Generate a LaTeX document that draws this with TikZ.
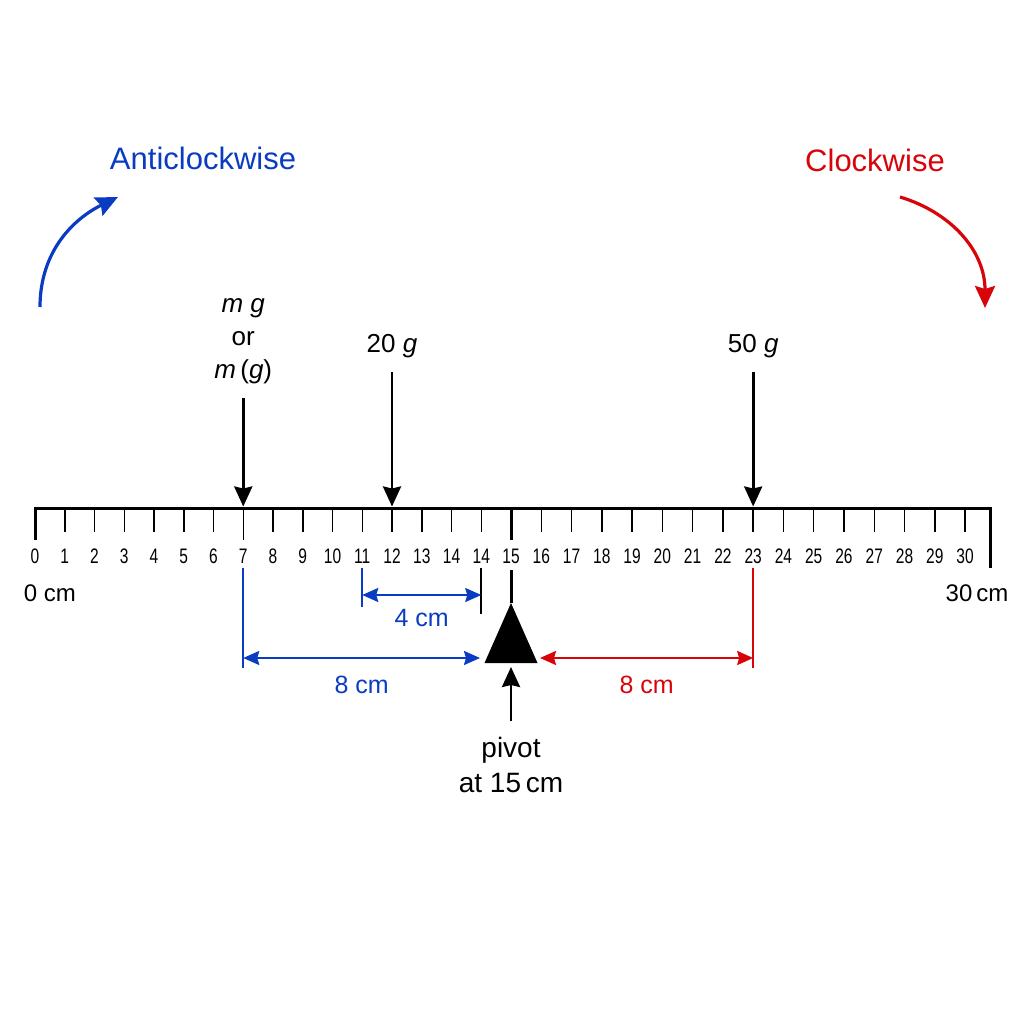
\documentclass[tikz,border=0pt]{standalone}
\usepackage{fontspec}
\setmainfont{Liberation Sans}
\newfontfamily\narrowfont[FakeStretch=0.74]{Liberation Sans}
\usetikzlibrary{arrows.meta,calc,positioning}

\definecolor{acw}{RGB}{10,60,195}
\definecolor{cw}{RGB}{215,5,10}

\tikzset{
  ruler/.style={line width=3pt},
  tick/.style={line width=1.5pt},
  ticklab/.style={font=\narrowfont\fontsize{21}{21}\selectfont, inner sep=0pt},
  force/.style={line width=2.8pt, -{Stealth[length=20pt,width=18pt,inset=2pt]}},
  dim/.style={line width=2.2pt, {Stealth[length=16pt,width=14pt,inset=2pt]}-{Stealth[length=16pt,width=14pt,inset=2pt]}},
  guide/.style={line width=1.8pt},
  wt/.style={font=\fontsize{26}{33}\selectfont, align=center, inner sep=0pt},
  dimlab/.style={font=\fontsize{25}{30}\selectfont},
  turn/.style={line width=3.2pt, -{Stealth[length=22pt,width=20pt,inset=3pt]}},
  turnlab/.style={font=\fontsize{31}{31}\selectfont},
}

\begin{document}
\begin{tikzpicture}[x=1pt,y=-1pt]
  \useasboundingbox (0,0) rectangle (1024,1024);

  % ruler
  \foreach \lab [count=\i from 0] in {0,1,2,3,4,5,6,7,8,9,10,11,12,13,14,14,15,16,17,18,19,20,21,22,23,24,25,26,27,28,29,30}{
    \pgfmathsetmacro{\px}{\i<17 ? 35+29.75*\i : 511+30.27*(\i-16)}
    \coordinate (p\i) at (\px,508);
    \draw[tick] (p\i) -- ++(0,24);
    \node[ticklab] (l\i) at ($(p\i)+(0,48)$) {\lab};
  }
  \coordinate (rend) at (990,508);
  \draw[ruler] ($(p0)+(0,32)$) -- (p0) -- (rend) -- ($(rend)+(0,60)$);
  \draw[tick] (p7) -- ++(0,32);
  \draw[ruler] (p16) -- ++(0,32);

  \node[font=\fontsize{24}{24}\selectfont] (zero) at ($(p0)+(15,85)$) {0 cm};
  \node[font=\fontsize{24}{24}\selectfont] (thirty) at ($(rend)+(-13,85)$) {30\,cm};

  % weights
  \node[wt, above=124pt of p7] (wm) {\textit{m g}\\or\\\textit{m}\,(\textit{g})};
  \node[wt, above=150pt of p12] (w20) {20 \textit{g}};
  \node[wt, above=150pt of p24] (w50) {50 \textit{g}};
  \draw[force, shorten <=14pt, shorten >=1.5pt] (wm) -- (p7);
  \draw[force, shorten <=14pt, shorten >=1.5pt] (w20) -- (p12);
  \draw[force, shorten <=14pt, shorten >=1.5pt] (w50) -- (p24);

  % pivot
  \coordinate (apex) at ($(p16)+(0,95)$);
  \coordinate (pb) at ($(apex)+(0,64)$);
  \draw[ruler] ($(p16)+(0,62)$) -- (apex);
  \fill (apex) -- ++(-26.5,60) -- ++(53,0) -- cycle;
  \node[font=\fontsize{28}{35}\selectfont, align=center, inner sep=0pt, below=70pt of pb] (piv) {pivot\\at 15\,cm};
  \draw[force, shorten <=16pt] (piv) -- (pb);

  % distances
  \draw[guide, acw] ($(p7)+(0,60)$) -- ++(0,100);
  \draw[guide, acw] ($(p11)+(0,60)$) -- ++(0,39);
  \draw[guide] ($(p15)+(0,60)$) -- ++(0,46);
  \draw[guide, cw] ($(p24)+(0,60)$) -- ++(0,100);

  \coordinate (a1) at ($(p11)+(0,87)$);
  \coordinate (a2) at ($(p15)+(0,87)$);
  \draw[dim, acw] (a1) -- (a2);
  \node[dimlab, text=acw] (d4) at ($(a1)!0.5!(a2)+(0,23)$) {4 cm};

  \coordinate (b1) at ($(p7)+(0,150)$);
  \coordinate (b2) at ($(p16)+(-31,150)$);
  \draw[dim, acw] (b1) -- (b2);
  \node[dimlab, text=acw] (d8l) at ($(b1)!0.5!(b2)+(0,27)$) {8 cm};

  \coordinate (c1) at ($(p16)+(29,150)$);
  \coordinate (c2) at ($(p24)+(0,150)$);
  \draw[dim, cw] (c1) -- (c2);
  \node[dimlab, text=cw] (d8r) at ($(c1)!0.5!(c2)+(0,27)$) {8 cm};

  % turning sense
  \node[turnlab, text=acw] (acwlab) at (203,158) {Anticlockwise};
  \node[turnlab, text=cw] (cwlab) at (875,160) {Clockwise};
  \coordinate (t1) at (40,307);
  \coordinate (t2) at (118,197);
  \coordinate (t3) at (900,197);
  \coordinate (t4) at (985,308);
  \draw[turn, acw] (t1) .. controls (40,250) and (75,218) .. (t2);
  \draw[turn, cw] (t3) .. controls (950,212) and (985,250) .. (t4);
\end{tikzpicture}
\end{document}
